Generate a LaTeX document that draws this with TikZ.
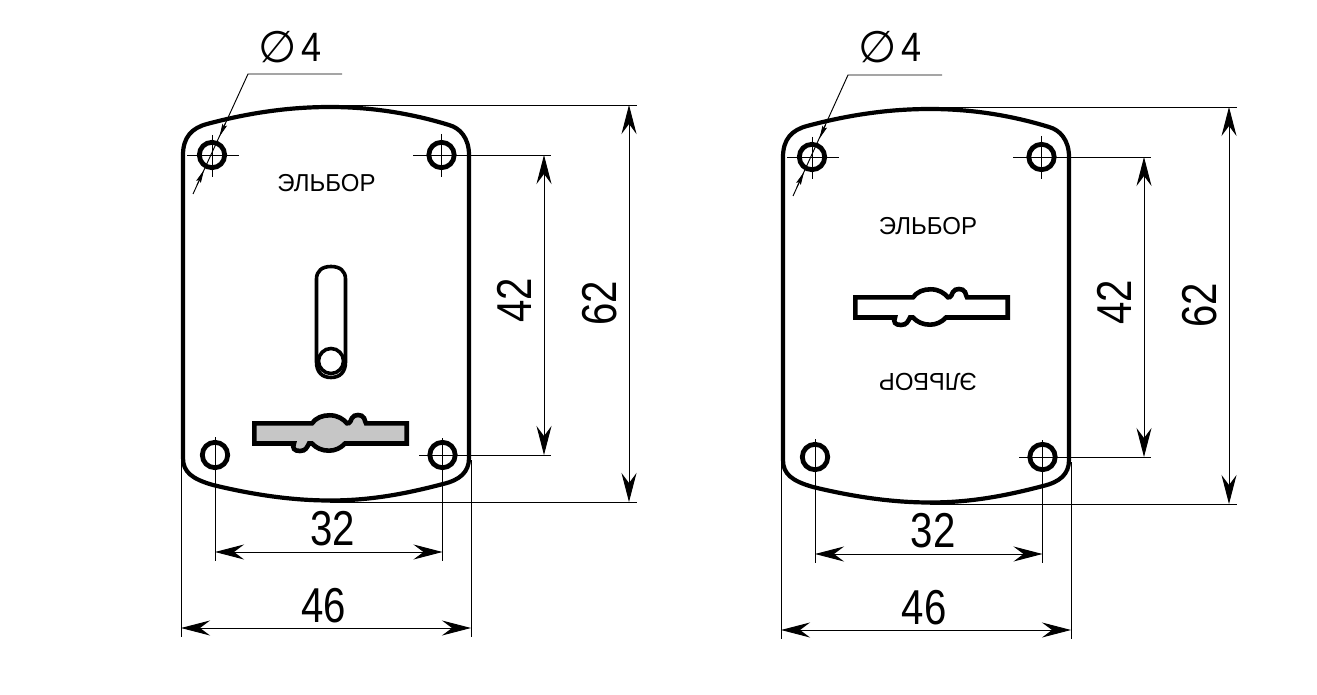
\documentclass[tikz,border=0pt]{standalone}
\usepackage{fontspec}
\setmainfont{Liberation Sans}
\newfontfamily\symfont{DejaVu Sans}
\usetikzlibrary{arrows.meta}
\tikzset{
  thick line/.style={line width=4.2pt,line join=round},
  thin line/.style={line width=0.95pt},
  dim/.style={line width=0.95pt,{Stealth[length=29pt,width=15pt,inset=10pt]}-{Stealth[length=29pt,width=15pt,inset=10pt]}},
  small dim/.style={line width=0.8pt,-{Stealth[length=13pt,width=5pt,inset=2pt]}},
  num/.style={inner sep=0pt,font=\fontsize{49}{49}\selectfont,xscale=0.82},
  numr/.style={inner sep=0pt,font=\fontsize{49}{49}\selectfont,rotate=90,xscale=0.82},
  brand/.style={inner sep=0pt,font=\fontsize{24.5}{25}\selectfont,xscale=0.98},
  hole/.style={line width=4.8pt,fill=white},
}
\newcommand{\plateoutline}{%
  \draw[thick line] (207,124) .. controls (250,112.5) and (290,107) .. (330,107)
    .. controls (370,107) and (410,113) .. (449,125)
    .. controls (460,128) and (469,138) .. (469,155)
    -- (469,458) .. controls (469,472) and (460,480) .. (443,484)
    .. controls (405,494) and (370,500.5) .. (330,500.5)
    .. controls (290,500.5) and (250,494) .. (213,485)
    .. controls (192,479) and (183,472) .. (183,458)
    -- (183,155) .. controls (183,137) and (192,128) .. (207,124) -- cycle;
}
\newcommand{\keyhole}[1]{%
  \draw[line width=4.6pt,line join=miter,fill=#1] (254.3,423.3) -- (312,423.3)
    .. controls (316,418) and (322,415.3) .. (329.5,415.3)
    .. controls (338,415.3) and (343,419) .. (347,423.3)
    .. controls (350,424) and (351,420) .. (352,418)
    .. controls (354,414) and (362,414) .. (364,418)
    .. controls (365,420) and (365,422) .. (366,423.3)
    -- (406.7,423.3) -- (406.7,443.5) -- (345,443.5)
    .. controls (341,448) and (335,450.7) .. (329,450.7)
    .. controls (322,450.7) and (316,448) .. (312,443.5)
    -- (309,443.5) .. controls (307,447) and (306,451) .. (300,451)
    .. controls (294,451) and (292,448) .. (294,443.5)
    -- (254.3,443.5) -- cycle;
}
\newcommand{\holes}{%
  \draw[hole] (212,155) circle[radius=12.7pt];
  \draw[hole] (441.5,155) circle[radius=12.7pt];
  \draw[hole] (215,455) circle[radius=12.7pt];
  \draw[hole] (442.5,455) circle[radius=12.7pt];
}
\newcommand{\dims}[2]{%
  % centre marks and extension lines
  \draw[thin line] (187,155) -- (239,155);
  \draw[thin line] (212,135) -- (212,177);
  \draw[thin line] (441.5,134) -- (441.5,177);
  \draw[thin line] (413,155) -- (551,155);
  \draw[thin line] (419,455) -- (551,455);
  \draw[thin line] (330,105) -- (637,105);
  \draw[thin line] (330,502) -- (637,502);
  \draw[thin line] (215,437) -- (215,561);
  \draw[thin line] (442.5,438) -- (442.5,561);
  \draw[thin line] (181,460) -- (181,637);
  \draw[thin line] (471,460) -- (471,637);
  % dimension lines
  \coordinate (t62) at (629,105); \coordinate (b62) at (629,502);
  \coordinate (t42) at (544,155); \coordinate (b42) at (544,455);
  \coordinate (l32) at (215,552); \coordinate (r32) at (442.5,552);
  \coordinate (l46) at (181,628); \coordinate (r46) at (471,628);
  \draw[dim] (t62) -- (b62);
  \draw[dim] (t42) -- (b42);
  \draw[dim] (l32) -- (r32);
  \draw[dim] (l46) -- (r46);
  \node[numr] (n62) at (600,303) {62};
  \node[numr] (n42) at (514,300) {42};
  \node[num] (n32) at (333,529) {32};
  \node[num] (n46) at (324,606) {46};
  % diameter leader
  \coordinate (la) at (342,#1); \coordinate (lb) at (248,#1); \coordinate (lc) at (193,194);
  \coordinate (ua) at (225.5,123); \coordinate (ub) at (219.5,136.5);
  \coordinate (da) at (197,185); \coordinate (db) at (204,170);
  \draw[thin line] (la) -- (lb) -- (lc);
  \draw[small dim] (ua) -- (ub);
  \draw[small dim] (da) -- (db);
  \node[inner sep=0pt,font=\symfont\fontsize{44}{44}\selectfont] (dia) at (278,#2) {∅};
  \node[inner sep=0pt,font=\fontsize{41}{41}\selectfont,xscale=0.88] (d4) at (312,#2) {4};
}
\begin{document}
\begin{tikzpicture}[x=1pt,y=-1pt]
\useasboundingbox (0,0) rectangle (1317,695);
\fill[white] (0,0) rectangle (1317,695);
% left plate
\begin{scope}
  \plateoutline
  \holes
  \dims{74}{47}
  \node[brand] (bl) at (326.5,183) {ЭЛЬБОР};
  \draw[line width=3.6pt] (316.5,279) .. controls (316.5,271) and (322,266.5) .. (331,266.5)
     .. controls (340,266.5) and (345.5,271) .. (345.5,279)
     -- (345.5,362) .. controls (345.5,372) and (340,377.5) .. (331,377.5)
     .. controls (322,377.5) and (316.5,372) .. (316.5,362) -- cycle;
  \draw[line width=3.6pt] (331,361) circle[radius=12.5pt];
  \keyhole{gray!45}
\end{scope}
% right plate
\begin{scope}[shift={(600,2)}]
  \plateoutline
  \holes
  \dims{73}{45}
  \node[brand] (br1) at (328,224) {ЭЛЬБОР};
  \node[brand,rotate=180] (br2) at (328,380) {ЭЛЬБОР};
  \begin{scope}[shift={(1,-128)}]
    \keyhole{white}
  \end{scope}
\end{scope}
\end{tikzpicture}
\end{document}
